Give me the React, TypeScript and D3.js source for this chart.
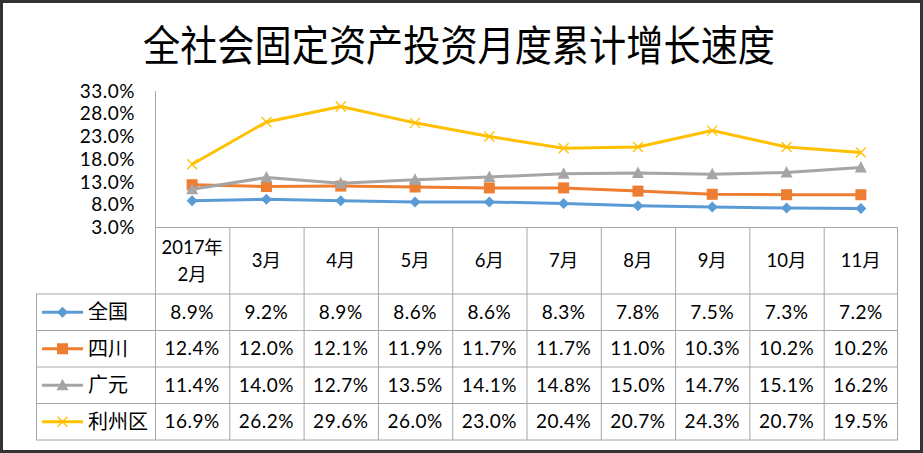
import React from "react";
import * as d3 from "d3";

const categories = ["2017年\n2月", "3月", "4月", "5月", "6月", "7月", "8月", "9月", "10月", "11月"];
const seriesNames = ["全国", "四川", "广元", "利州区"];
const quanguo = [8.9, 9.2, 8.9, 8.6, 8.6, 8.3, 7.8, 7.5, 7.3, 7.2];
const sichuan = [12.4, 12.0, 12.1, 11.9, 11.7, 11.7, 11.0, 10.3, 10.2, 10.2];
const guangyuan = [11.4, 14.0, 12.7, 13.5, 14.1, 14.8, 15.0, 14.7, 15.1, 16.2];
const lizhou = [16.9, 26.2, 29.6, 26.0, 23.0, 20.4, 20.7, 24.3, 20.7, 19.5];
const yTicks = [3, 8, 13, 18, 23, 28, 33];

const W = 923;
const H = 453;
const colors = ["#5B9BD5", "#ED7D31", "#A5A5A5", "#FFC000"];
const markers = ["diamond", "square", "triangle", "x"];
const FONT = "Lato, 'Noto Sans CJK SC', sans-serif";
const CJK = "'Noto Sans CJK SC', sans-serif";

function Marker({ type, x, y, color }: { type: string; x: number; y: number; color: string }) {
  if (type === "diamond") {
    const s = 5.5;
    return <path d={`M${x},${y - s}L${x + s},${y}L${x},${y + s}L${x - s},${y}Z`} fill={color} />;
  }
  if (type === "square") {
    return <rect x={x - 5.5} y={y - 5.5} width={11} height={11} fill={color} />;
  }
  if (type === "triangle") {
    return <path d={`M${x},${y - 6.5}L${x + 6},${y + 5}L${x - 6},${y + 5}Z`} fill={color} />;
  }
  const s = 5;
  return (
    <path d={`M${x - s},${y - s}L${x + s},${y + s}M${x - s},${y + s}L${x + s},${y - s}`} stroke={color} strokeWidth={1.3} fill="none" />
  );
}

export default function App() {
  const data = [quanguo, sichuan, guangyuan, lizhou];
  const left = 155;
  const right = 898;
  const x = d3.scaleBand<string>().domain(categories).range([left, right]);
  const y = d3.scaleLinear().domain([3, 33]).range([227.5, 91]);
  const tableLeft = 36;
  const headerTop = 227.5;
  const rowTops = [294, 330.5, 367, 403.5, 440];
  const bw = x.bandwidth();
  const cx = (c: string) => (x(c) as number) + bw / 2;
  const gridColor = "#A6A6A6";

  const line = d3
    .line<number>()
    .x((_, i) => cx(categories[i]))
    .y((d) => y(d));

  return (
    <svg
      width={W}
      height={H}
      style={{ position: "absolute", left: 0, top: 0, background: "#fff" }}
    >
      <rect x={1.5} y={1.5} width={W - 3} height={H - 3} fill="#fff" stroke="#333" strokeWidth={3} />
      <text x={143} y={61} textLength={632} lengthAdjust="spacingAndGlyphs" fontFamily={CJK} fontSize={42} fill="#000">
        全社会固定资产投资月度累计增长速度
      </text>

      {/* y axis labels */}
      {yTicks.map((t) => (
        <text key={t} x={135} y={y(t)} dy="0.35em" textAnchor="end" fontFamily={FONT} fontSize={19} letterSpacing={0.5} fill="#000">
          {t.toFixed(1)}%
        </text>
      ))}
      <line x1={left + 0.5} x2={left + 0.5} y1={91} y2={headerTop} stroke={gridColor} />

      {/* table grid */}
      <line x1={left} x2={right} y1={headerTop} y2={headerTop} stroke={gridColor} />
      {rowTops.map((r) => (
        <line key={r} x1={tableLeft} x2={right} y1={r} y2={r} stroke={gridColor} />
      ))}
      <line x1={tableLeft + 0.5} x2={tableLeft + 0.5} y1={rowTops[0]} y2={rowTops[4]} stroke={gridColor} />
      {categories.map((c) => (
        <line key={c} x1={(x(c) as number) + 0.5} x2={(x(c) as number) + 0.5} y1={headerTop} y2={rowTops[4]} stroke={gridColor} />
      ))}
      <line x1={right - 0.5} x2={right - 0.5} y1={headerTop} y2={rowTops[4]} stroke={gridColor} />

      {/* header */}
      {categories.map((c) => {
        const parts = c.split("\n");
        const mid = (headerTop + rowTops[0]) / 2;
        return (
          <text key={c} x={cx(c)} textAnchor="middle" fontFamily={FONT} fontSize={18.5} fill="#000">
            {parts.map((p, i) => (
              <tspan key={i} x={cx(c)} y={mid + (i - (parts.length - 1) / 2) * 27} dy="0.35em">
                {p}
              </tspan>
            ))}
          </text>
        );
      })}

      {/* rows */}
      {data.map((vals, si) => {
        const mid = (rowTops[si] + rowTops[si + 1]) / 2;
        return (
          <g key={si}>
            <line x1={42} x2={83} y1={mid} y2={mid} stroke={colors[si]} strokeWidth={3} />
            <Marker type={markers[si]} x={62.5} y={mid} color={colors[si]} />
            <text x={88} y={mid} dy="0.35em" fontFamily={CJK} fontSize={20} fill="#000">
              {seriesNames[si]}
            </text>
            {vals.map((v, i) => (
              <text key={i} x={cx(categories[i])} y={mid} dy="0.35em" textAnchor="middle" fontFamily={FONT} fontSize={19} letterSpacing={0.5} fill="#000">
                {v.toFixed(1)}%
              </text>
            ))}
          </g>
        );
      })}

      {/* lines */}
      {data.map((vals, si) => (
        <g key={"l" + si}>
          <path d={line(vals) || ""} fill="none" stroke={colors[si]} strokeWidth={3} strokeLinejoin="round" />
          {vals.map((v, i) => (
            <Marker key={i} type={markers[si]} x={cx(categories[i])} y={y(v)} color={colors[si]} />
          ))}
        </g>
      ))}
    </svg>
  );
}
